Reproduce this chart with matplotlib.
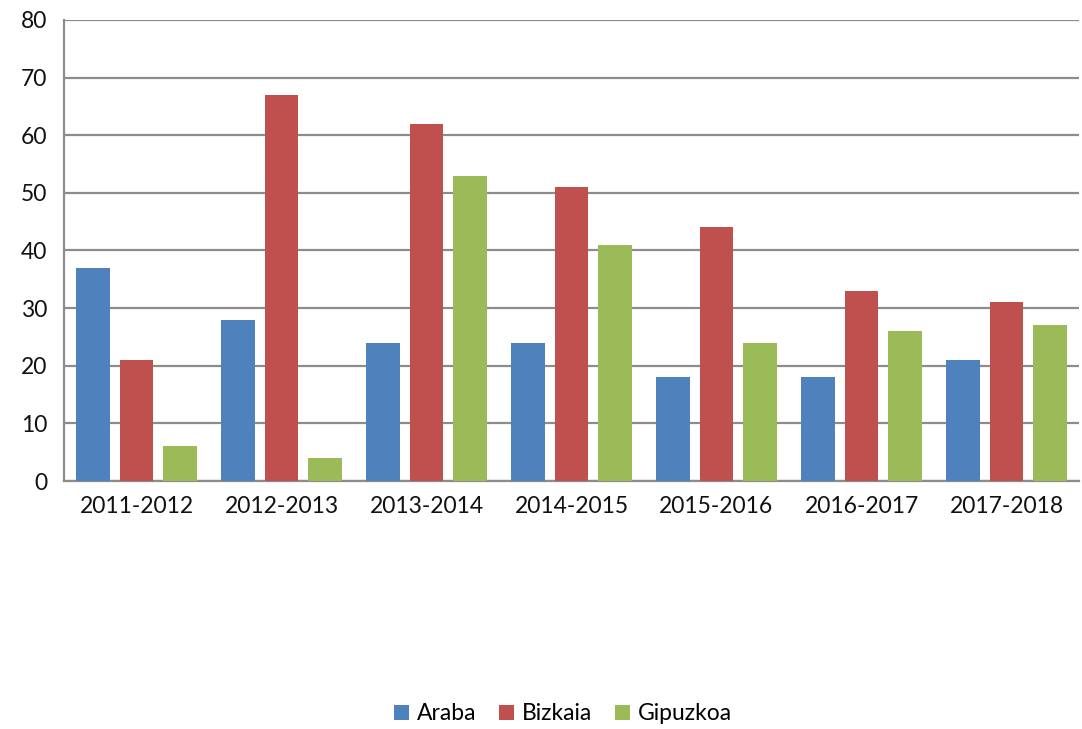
import matplotlib.pyplot as plt
import numpy as np

seasons = ['2011-2012', '2012-2013', '2013-2014', '2014-2015',
           '2015-2016', '2016-2017', '2017-2018']
araba = [37, 28, 24, 24, 18, 18, 21]
bizkaia = [21, 67, 62, 51, 44, 33, 31]
gipuzkoa = [6, 4, 53, 41, 24, 26, 27]

plt.rcParams['font.family'] = ['Lato', 'DejaVu Sans']

fig = plt.figure(figsize=(10.82, 7.29), dpi=100)
ax = fig.add_axes([64 / 1082, 1 - 481 / 729, 1015 / 1082, 461 / 729])

x = np.arange(len(seasons))
w = 0.234
step = 0.297
ax.bar(x - step, araba, w, color='#4F81BD', label='Araba', zorder=3)
ax.bar(x, bizkaia, w, color='#C0504D', label='Bizkaia', zorder=3)
ax.bar(x + step, gipuzkoa, w, color='#9BBB59', label='Gipuzkoa', zorder=3)

ax.set_xlim(-0.5, len(seasons) - 0.5)
ax.set_ylim(0, 80)
ax.set_yticks(range(0, 81, 10))
ax.set_xticks(x)
ax.set_xticklabels(seasons)
ax.yaxis.grid(True, color='#8C8C8C', linewidth=1.6, zorder=0)
ax.tick_params(axis='both', length=0, labelsize=16.5, colors='#111111')
ax.tick_params(axis='x', pad=11)
ax.tick_params(axis='y', pad=12)
for side in ['top', 'right']:
    ax.spines[side].set_visible(False)
for side in ['left', 'bottom']:
    ax.spines[side].set_color('#8C8C8C')
    ax.spines[side].set_linewidth(1.6)

fig.legend(loc='center', bbox_to_anchor=(563 / 1082, 1 - 714 / 729), ncol=3,
           frameon=False, fontsize=16.5, handlelength=0.65, handleheight=0.65,
           handletextpad=0.35, columnspacing=1.0)

fig.savefig('out.png', dpi=100)
